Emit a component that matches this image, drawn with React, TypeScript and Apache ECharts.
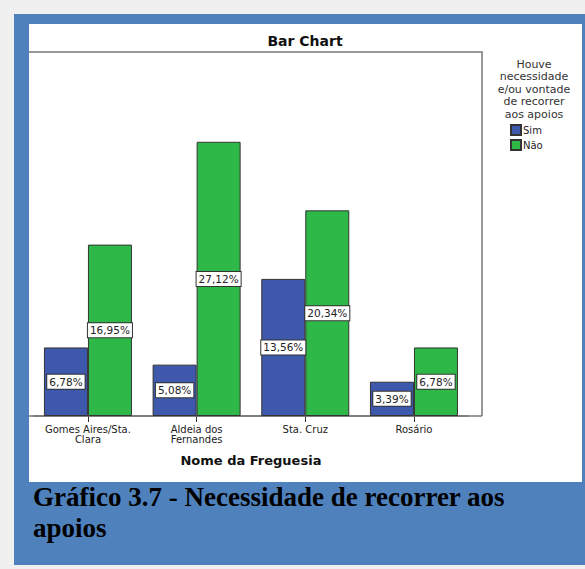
import React, { useEffect, useRef } from "react";
import * as echarts from "echarts";

const categories = ["Gomes Aires/Sta.\nClara", "Aldeia dos\nFernandes", "Sta. Cruz", "Rosário"];
const simValues = [6.78, 5.08, 13.56, 3.39];
const naoValues = [16.95, 27.12, 20.34, 6.78];
const seriesNames = ["Sim", "Não"];
const legendTitle = "Houve\nnecessidade\ne/ou vontade\nde recorrer\naos apoios";
const chartTitle = "Bar Chart";
const axisName = "Nome da Freguesia";
const caption = "Gráfico 3.7 - Necessidade de recorrer aos\napoios";

const FONT = "'DejaVu Sans', sans-serif";

export default function App() {
  const ref = useRef<HTMLDivElement>(null);
  useEffect(() => {
    if (!ref.current) return;
    const chart = echarts.init(ref.current, undefined, { renderer: "svg" });
    const fmt = (p: any) => p.value.toFixed(2).replace(".", ",") + "%";
    const labelCfg = {
      show: true,
      position: "inside",
      formatter: fmt,
      fontFamily: FONT,
      fontSize: 10.5,
      color: "#222",
      backgroundColor: "#fff",
      borderColor: "#333",
      borderWidth: 1,
      padding: [2, 2, 1, 2],
    };
    chart.setOption({
      animation: false,
      backgroundColor: "transparent",
      grid: { left: 33.6, right: 116.7, top: 52, bottom: 153, containLabel: false },
      xAxis: {
        type: "category",
        data: categories,
        axisLine: { show: true, lineStyle: { color: "#777", width: 1.5 } },
        axisTick: { show: true, alignWithLabel: true, length: 6, lineStyle: { color: "#333" } },
        axisLabel: { interval: 0, fontFamily: FONT, fontSize: 10, color: "#222", lineHeight: 10.5, margin: 8 },
        name: axisName,
        nameLocation: "middle",
        nameGap: 38,
        nameTextStyle: { fontFamily: FONT, fontSize: 13, fontWeight: "bold", color: "#111" },
      },
      yAxis: { type: "value", min: 0, max: 36, show: false, splitLine: { show: false } },
      legend: {
        data: seriesNames,
        orient: "vertical",
        left: 510,
        top: 124,
        itemWidth: 10,
        itemHeight: 10,
        itemGap: 3,
        padding: 0,
        icon: "rect",
        textStyle: { fontFamily: FONT, fontSize: 10, color: "#222", padding: [0, 0, 0, -3] },
      },
      series: [
        {
          name: seriesNames[0],
          type: "bar",
          data: simValues,
          barWidth: 44,
          barGap: "0%",
          itemStyle: { color: "#3E58AC", borderColor: "#333", borderWidth: 1 },
          label: labelCfg,
        },
        {
          name: seriesNames[1],
          type: "bar",
          data: naoValues,
          barWidth: 44,
          barGap: "0%",
          itemStyle: { color: "#2EB848", borderColor: "#333", borderWidth: 1 },
          label: labelCfg,
        },
      ],
      graphic: [
        {
          type: "polyline",
          shape: { points: [[29, 52], [482, 52], [482, 416]] },
          style: { stroke: "#777", lineWidth: 1.5, fill: "none" },
          z: 1,
        },
        {
          type: "polyline",
          shape: { points: [[29, 416], [482, 416]] },
          style: { stroke: "#777", lineWidth: 1.5, fill: "none" },
          z: 1,
        },
        {
          type: "text",
          x: 305,
          y: 41,
          style: {
            text: chartTitle,
            fontFamily: FONT,
            fontSize: 14,
            fontWeight: "bold",
            fill: "#111",
            textAlign: "center",
            textVerticalAlign: "middle",
          },
        },
        {
          type: "text",
          x: 534,
          y: 58,
          style: {
            text: legendTitle,
            fontFamily: FONT,
            fontSize: 11,
            lineHeight: 12.5,
            fill: "#333",
            textAlign: "center",
            textVerticalAlign: "top",
          },
        },
        {
          type: "text",
          x: 33,
          y: 481,
          style: {
            text: caption,
            fontFamily: "'Liberation Serif', 'Times New Roman', serif",
            fontSize: 27,
            fontWeight: "bold",
            lineHeight: 31,
            fill: "#000",
            textAlign: "left",
            textVerticalAlign: "top",
          },
        },
      ],
    });
    return () => chart.dispose();
  }, []);

  return (
    <div style={{ position: "fixed", left: 0, top: 0, width: 585, height: 569, background: "#f0f0f0" }}>
      <div style={{ position: "absolute", left: 14, top: 14, width: 571, height: 551, background: "#4f81bd" }} />
      <div style={{ position: "absolute", left: 29, top: 24, width: 553, height: 458, background: "#ffffff" }} />
      <div ref={ref} style={{ position: "absolute", left: 0, top: 0, width: 585, height: 569 }} />
    </div>
  );
}
